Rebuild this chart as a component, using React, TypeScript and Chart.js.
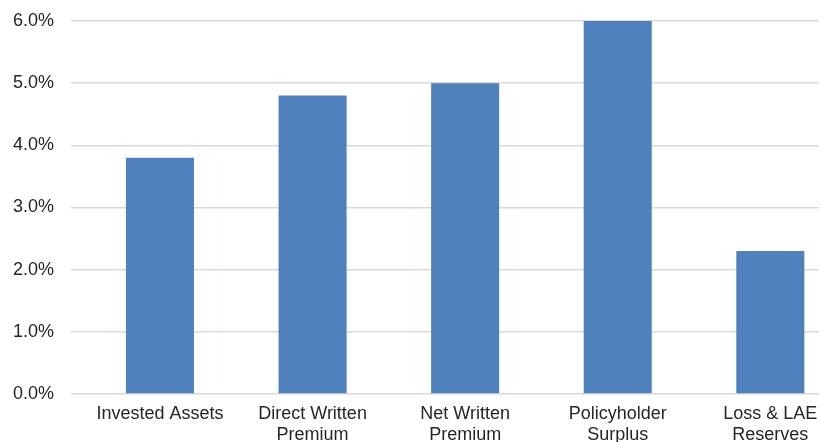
import React, { useEffect, useRef } from "react";
import { Chart, registerables } from "chart.js";

Chart.register(...registerables);

// Growth rates by balance-sheet / income line (percent)
const categories: string[][] = [
  ["Invested Assets"],
  ["Direct Written", "Premium"],
  ["Net Written", "Premium"],
  ["Policyholder", "Surplus"],
  ["Loss & LAE", "Reserves"],
];
const growthPct: number[] = [3.8, 4.8, 5.0, 6.0, 2.3];
const yTicks: number[] = [0, 1, 2, 3, 4, 5, 6];

const BAR_COLOR = "#4F81BD";
const TEXT_COLOR = "#262626";
const GRID_COLOR = "#d9d9d9";
const FONT = { family: "'Liberation Sans', Arial, sans-serif", size: 18 };

const CANVAS_W = 822;
const CANVAS_H = 470;
const PLOT_BOTTOM = 394;
const X_MIN = -0.583;
const X_MAX = 4.319;

export default function App() {
  const canvasRef = useRef<HTMLCanvasElement | null>(null);

  useEffect(() => {
    if (!canvasRef.current) return;
    const chart = new Chart(canvasRef.current, {
      type: "bar",
      data: {
        datasets: [
          {
            data: growthPct.map((v, i) => ({ x: i, y: v })),
            backgroundColor: BAR_COLOR,
            borderWidth: 0,
            barPercentage: 0.446,
            categoryPercentage: 1,
          },
        ],
      },
      options: {
        animation: false,
        responsive: true,
        maintainAspectRatio: false,
        layout: { autoPadding: false, padding: { top: 21, right: 3, left: 0, bottom: 0 } },
        plugins: {
          legend: { display: false },
          tooltip: { enabled: false },
        },
        scales: {
          x: {
            type: "linear",
            offset: false,
            bounds: "data",
            min: X_MIN,
            max: X_MAX,
            grid: { display: false, drawTicks: false, offset: false },
            border: { display: false },
            afterDataLimits: (scale: any) => {
              scale.min = X_MIN;
              scale.max = X_MAX;
            },
            afterBuildTicks: (scale: any) => {
              scale.ticks = categories.map((_, i) => ({ value: i }));
            },
            afterFit: (scale: any) => {
              scale.height = CANVAS_H - PLOT_BOTTOM;
              scale.paddingLeft = 0;
              scale.paddingRight = 0;
            },
            ticks: {
              autoSkip: false,
              maxRotation: 0,
              minRotation: 0,
              padding: 9,
              color: TEXT_COLOR,
              font: FONT,
              callback: (v: any) => categories[Number(v)] ?? "",
            },
          },
          y: {
            min: 0,
            max: 6,
            afterBuildTicks: (scale: any) => {
              scale.ticks = yTicks.map((v) => ({ value: v }));
            },
            afterFit: (scale: any) => {
              scale.width = 71;
              scale.paddingTop = 0;
              scale.paddingBottom = 0;
            },
            grid: { color: GRID_COLOR, lineWidth: 1.5, drawTicks: false },
            border: { display: false },
            ticks: {
              padding: 17,
              color: TEXT_COLOR,
              font: FONT,
              callback: (v: any) => Number(v).toFixed(1) + "%",
            },
          },
        },
      },
    });
    return () => chart.destroy();
  }, []);

  return (
    <div
      style={{
        position: "fixed",
        left: 0,
        top: 0,
        width: CANVAS_W,
        height: CANVAS_H,
        background: "#fff",
      }}
    >
      <canvas ref={canvasRef} />
    </div>
  );
}
